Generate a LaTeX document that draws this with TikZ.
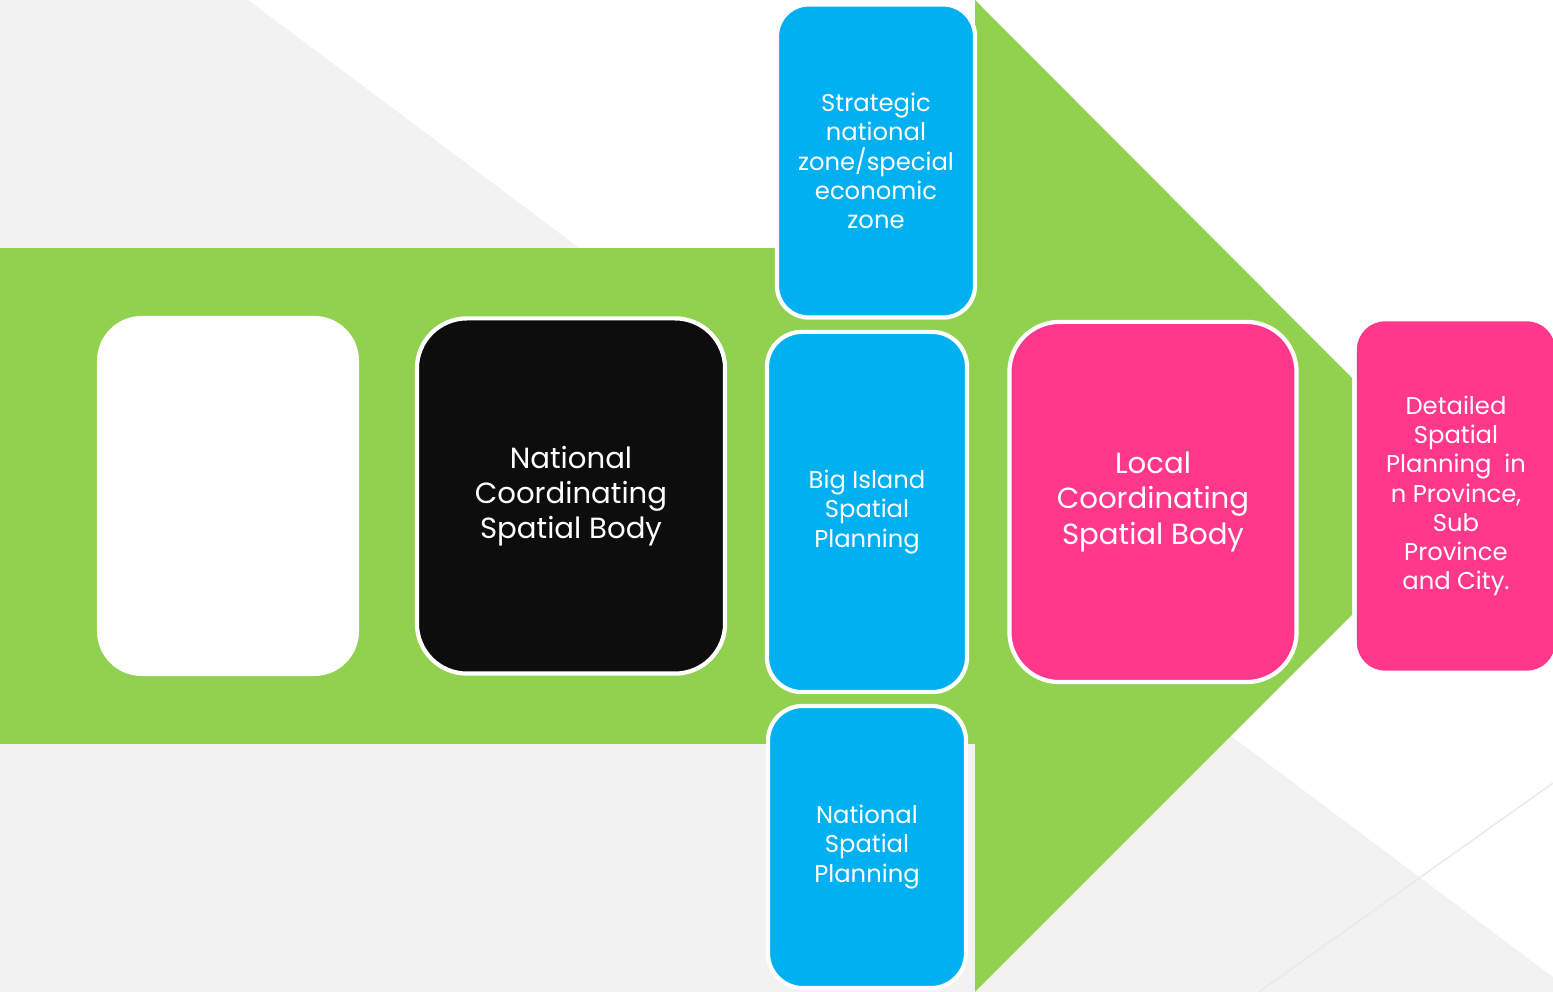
\documentclass[tikz,border=0pt]{standalone}
\usepackage{fontspec}
\setmainfont{Poppins}
\usepackage{tikz}
\usetikzlibrary{positioning}

\definecolor{arrowgreen}{HTML}{92D050}
\definecolor{boxblue}{HTML}{00B0F0}
\definecolor{boxpink}{HTML}{FF388C}
\definecolor{boxblack}{HTML}{0D0D0D}
\definecolor{bggray}{HTML}{F2F2F2}
\definecolor{lineggray}{HTML}{E9E9E9}

\begin{document}
\begin{tikzpicture}[x=0.01cm,y=-0.01cm,
    box/.style={text=white, align=center, inner sep=0pt},
    rim/.style={draw=white, line width=1.2pt},
    bigtext/.style={font=\fontsize{8.3}{10}\selectfont},
    smalltext/.style={font=\fontsize{6.9}{8.3}\selectfont}]

    \useasboundingbox (0,0) rectangle (1553,992);

    % 背景
    \fill[bggray] (0,0) -- (248,0) -- (1553,977) -- (1553,992) -- (0,992) -- cycle;
    \draw[lineggray, line width=0.4pt] (1553,783) -- (1259,992);

    % 緑の矢印
    \fill[arrowgreen] (0,248) rectangle (975,744);
    \fill[arrowgreen] (975,0) -- (1352,378) -- (1352,615) -- (975,992) -- cycle;

    % 白い箱
    \node[box, fill=white, rounded corners=0.45cm, minimum width=2.62cm, minimum height=3.60cm] (blank) at (228,496) {};

    % 黒い箱
    \node[box, rim, fill=boxblack, rounded corners=0.5cm, minimum width=3.08cm, minimum height=3.55cm, bigtext] (ncsb) at (571,496)
        {National\\Coordinating\\Spatial Body};

    % 青い箱
    \node[box, rim, fill=boxblue, rounded corners=0.32cm, minimum width=1.98cm, minimum height=3.13cm, smalltext] (snz) at (876,161)
        {Strategic\\national\\zone/special\\economic\\zone};
    \node[box, rim, fill=boxblue, rounded corners=0.35cm, minimum width=2.00cm, minimum height=3.60cm, smalltext] (bisp) at (867,512)
        {Big Island\\Spatial\\Planning};
    \node[box, rim, fill=boxblue, rounded corners=0.35cm, minimum width=1.98cm, minimum height=2.82cm, smalltext] (nsp) at (867,847)
        {National\\Spatial\\Planning};

    % ピンクの箱
    \node[box, rim, fill=boxpink, rounded corners=0.5cm, minimum width=2.87cm, minimum height=3.60cm, bigtext] (lcsb) at (1153,502)
        {Local\\Coordinating\\Spatial Body};
    \node[box, fill=boxpink, rounded corners=0.28cm, minimum width=1.98cm, minimum height=3.49cm, smalltext] (dsp) at (1456,496)
        {Detailed\\Spatial\\Planning~ in\\n Province,\\Sub\\Province\\and City.};

\end{tikzpicture}
\end{document}
